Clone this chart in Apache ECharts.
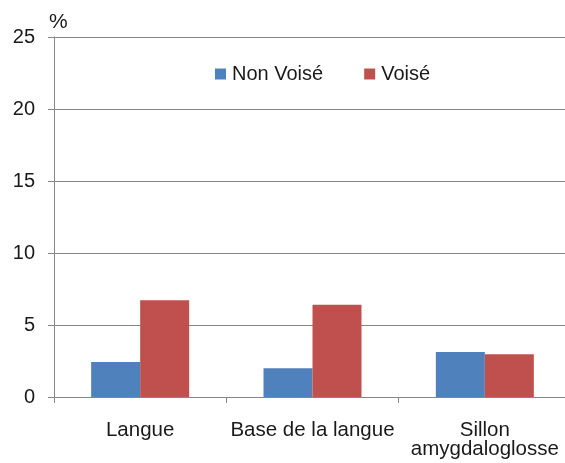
<!DOCTYPE html>
<html>
<head>
<meta charset="utf-8">
<script src="https://cdn.jsdelivr.net/npm/echarts@6/dist/echarts.min.js"></script>
<style>
  html, body { margin: 0; padding: 0; background: #fff; }
  #chart { width: 565px; height: 463px; }
</style>
</head>
<body>
<div id="chart"></div>
<script>
// Site categories on the x axis
const categories = ['Langue', 'Base de la langue', 'Sillon\namygdaloglosse'];
// Percentages per group
const nonVoise = [2.43, 2.0, 3.13];
const voise = [6.72, 6.4, 2.97];
// Y axis range
const yMin = 0;
const yMax = 25;
const yStep = 5;

const FONT = '"Liberation Sans", Arial, sans-serif';
const GRID_COLOR = '#878787';

const chart = echarts.init(document.getElementById('chart'), null, { renderer: 'canvas' });

chart.setOption({
  animation: false,
  backgroundColor: '#ffffff',
  // plot area runs slightly past the right edge of the canvas
  grid: {
    left: 54, width: 517, top: 37, bottom: 66,
    containLabel: false,
    outerBoundsMode: 'none'
  },
  legend: {
    data: ['Non Voisé', 'Voisé'],
    left: 210,
    top: 59,
    icon: 'rect',
    itemWidth: 11,
    itemHeight: 11,
    itemGap: 41,
    textStyle: { fontFamily: FONT, fontSize: 20, color: '#1a1a1a', padding: [0, 0, 0, 1] }
  },
  graphic: [{
    type: 'text',
    left: 49,
    top: 12,
    style: { text: '%', font: '21px "Liberation Sans", Arial, sans-serif', fill: '#1a1a1a' }
  }],
  xAxis: {
    type: 'category',
    data: categories,
    axisLine: { show: true, lineStyle: { color: GRID_COLOR, width: 1 } },
    axisTick: { show: true, length: 6, lineStyle: { color: GRID_COLOR } },
    axisLabel: {
      fontFamily: FONT,
      fontSize: 20.5,
      lineHeight: 19,
      color: '#1a1a1a',
      margin: 24,
      interval: 0
    }
  },
  yAxis: {
    type: 'value',
    min: yMin,
    max: yMax,
    interval: yStep,
    axisLine: { show: true, lineStyle: { color: GRID_COLOR, width: 1 } },
    axisTick: { show: true, length: 6, lineStyle: { color: GRID_COLOR } },
    splitLine: { show: true, lineStyle: { color: GRID_COLOR, width: 1 } },
    axisLabel: { fontFamily: FONT, fontSize: 20, color: '#1a1a1a', margin: 19 }
  },
  series: [
    {
      name: 'Non Voisé',
      type: 'bar',
      data: nonVoise,
      barWidth: 49,
      barGap: '0%',
      itemStyle: { color: '#4F81BD' }
    },
    {
      name: 'Voisé',
      type: 'bar',
      data: voise,
      barWidth: 49,
      barGap: '0%',
      itemStyle: { color: '#C0504D' }
    }
  ]
});
</script>
</body>
</html>
